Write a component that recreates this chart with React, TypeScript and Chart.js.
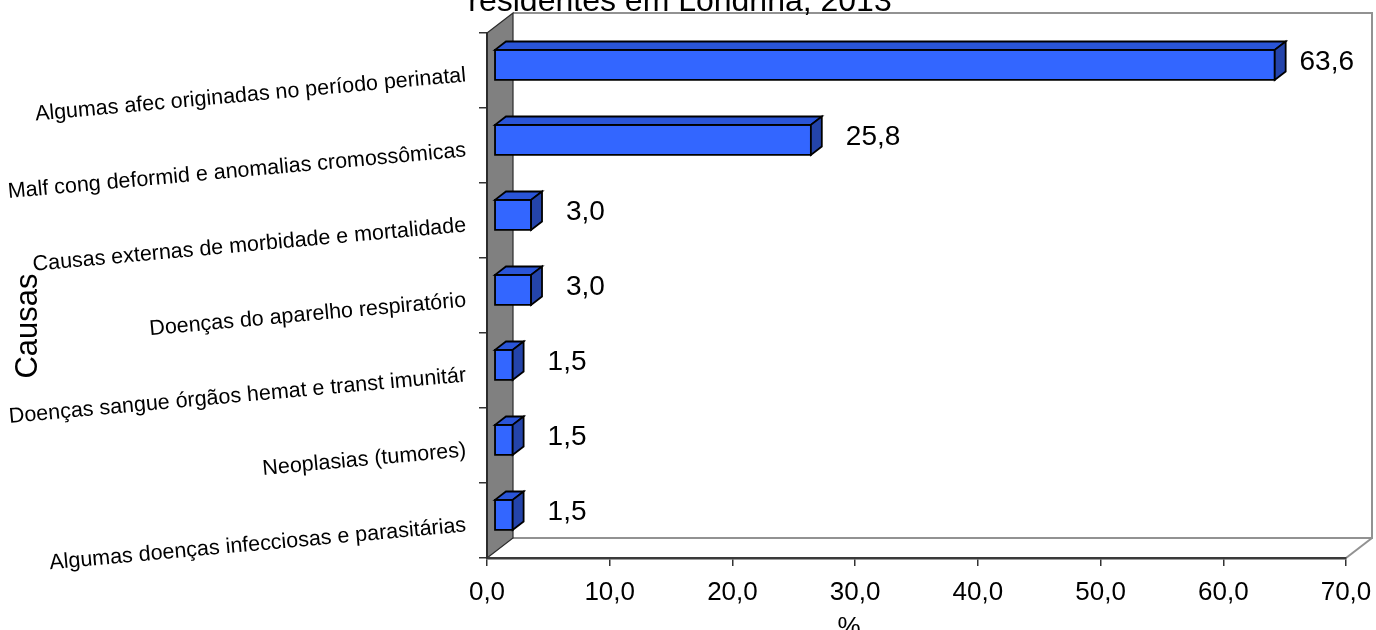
import React, { useEffect, useRef } from 'react';
import { Chart, registerables } from 'chart.js';

Chart.register(...registerables);

// Causes of death (top to bottom) and their share in %
const causes = [
  'Algumas afec originadas no período perinatal',
  'Malf cong deformid e anomalias cromossômicas',
  'Causas externas de morbidade e mortalidade',
  'Doenças do aparelho respiratório',
  'Doenças sangue órgãos hemat e transt imunitár',
  'Neoplasias (tumores)',
  'Algumas doenças infecciosas e parasitárias',
];
const percentages = [63.6, 25.8, 3.0, 3.0, 1.5, 1.5, 1.5];

const axisMin = 0;
const axisMax = 70;
const axisStep = 10;

const titleText = 'residentes em Londrina, 2013';
const xTitle = '%';
const yTitle = 'Causas';

const FONT = '"Liberation Sans", Arial, Helvetica, sans-serif';

// 3D look: depth vector of the plot box, and where the bars sit inside it
const DEPTH = { x: 26, y: -20 };
const BAR_FRONT = 0.28;
const BAR_BACK = 0.7;

const fmt = (v: number) => v.toFixed(1).replace('.', ',');

const boxPlugin = {
  id: 'box3d',
  beforeDraw(chart: any) {
    const { ctx, chartArea: a } = chart;
    const dx = DEPTH.x;
    const dy = DEPTH.y;
    ctx.save();
    // back wall outline + floor edges
    ctx.strokeStyle = '#929292';
    ctx.lineWidth = 2;
    ctx.beginPath();
    ctx.moveTo(a.left + dx, a.bottom + dy);
    ctx.lineTo(a.right + dx, a.bottom + dy);
    ctx.lineTo(a.right + dx, a.top + dy);
    ctx.lineTo(a.left + dx, a.top + dy);
    ctx.stroke();
    ctx.beginPath();
    ctx.moveTo(a.right + dx, a.bottom + dy);
    ctx.lineTo(a.right, a.bottom);
    ctx.stroke();
    // left side wall
    ctx.fillStyle = '#808080';
    ctx.beginPath();
    ctx.moveTo(a.left, a.top);
    ctx.lineTo(a.left + dx, a.top + dy);
    ctx.lineTo(a.left + dx, a.bottom + dy);
    ctx.lineTo(a.left, a.bottom);
    ctx.closePath();
    ctx.fill();
    ctx.strokeStyle = '#2b2b2b';
    ctx.lineWidth = 1.2;
    ctx.stroke();
    ctx.restore();
  },
  afterDatasetsDraw(chart: any) {
    const { ctx, chartArea: a } = chart;
    const meta = chart.getDatasetMeta(0);
    const fx = DEPTH.x * BAR_FRONT;
    const fy = DEPTH.y * BAR_FRONT;
    const bx = DEPTH.x * (BAR_BACK - BAR_FRONT);
    const by = DEPTH.y * (BAR_BACK - BAR_FRONT);
    ctx.save();
    ctx.lineJoin = 'miter';
    ctx.lineWidth = 1.8;
    ctx.strokeStyle = '#000';
    meta.data.forEach((el: any, i: number) => {
      const p = el.getProps(['x', 'y', 'base', 'height'], true);
      const x0 = Math.min(p.base, p.x) + fx;
      const x1 = Math.max(p.base, p.x) + fx;
      const yt = p.y - p.height / 2 + fy;
      const yb = p.y + p.height / 2 + fy;

      // front face
      ctx.fillStyle = '#3366ff';
      ctx.beginPath();
      ctx.rect(x0, yt, x1 - x0, yb - yt);
      ctx.fill();
      ctx.stroke();
      // top face
      ctx.fillStyle = '#2a55d8';
      ctx.beginPath();
      ctx.moveTo(x0, yt);
      ctx.lineTo(x0 + bx, yt + by);
      ctx.lineTo(x1 + bx, yt + by);
      ctx.lineTo(x1, yt);
      ctx.closePath();
      ctx.fill();
      ctx.stroke();
      // end face
      ctx.fillStyle = '#2444aa';
      ctx.beginPath();
      ctx.moveTo(x1, yt);
      ctx.lineTo(x1 + bx, yt + by);
      ctx.lineTo(x1 + bx, yb + by);
      ctx.lineTo(x1, yb);
      ctx.closePath();
      ctx.fill();
      ctx.stroke();

      // value label, kept inside the back wall
      const text = fmt(percentages[i]);
      ctx.font = `28px ${FONT}`;
      ctx.fillStyle = '#000';
      ctx.textAlign = 'left';
      ctx.textBaseline = 'middle';
      const w = ctx.measureText(text).width;
      const lx = Math.min(x1 + bx + 24, a.right + DEPTH.x - 18 - w);
      ctx.fillText(text, lx, p.y - 8);
    });
    ctx.restore();
  },
  afterDraw(chart: any) {
    const { ctx } = chart;
    ctx.save();
    ctx.fillStyle = '#000';
    ctx.textBaseline = 'alphabetic';
    ctx.textAlign = 'center';
    ctx.font = `32px ${FONT}`;
    ctx.fillText(titleText, 680, 11);
    ctx.font = `26px ${FONT}`;
    ctx.fillText(xTitle, 849, 635);
    ctx.translate(37, 326);
    ctx.rotate(-Math.PI / 2);
    ctx.font = `31px ${FONT}`;
    ctx.fillText(yTitle, 0, 0);
    ctx.restore();
  },
};

export default function App() {
  const canvasRef = useRef<HTMLCanvasElement | null>(null);

  useEffect(() => {
    document.body.style.margin = '0';
    const canvas = canvasRef.current;
    if (!canvas) return;
    Chart.defaults.font.family = FONT;
    const chart = new Chart(canvas, {
      type: 'bar',
      data: {
        labels: causes,
        datasets: [
          {
            data: percentages,
            backgroundColor: 'rgba(0,0,0,0)',
            borderWidth: 0,
            categoryPercentage: 0.8,
            barPercentage: 0.5,
          },
        ],
      },
      plugins: [boxPlugin],
      options: {
        indexAxis: 'y',
        animation: false,
        responsive: false,
        maintainAspectRatio: false,
        devicePixelRatio: 1,
        layout: { padding: { top: 33, right: 30, left: 0, bottom: 0 } },
        plugins: {
          legend: { display: false },
          tooltip: { enabled: false },
          title: { display: false },
        },
        scales: {
          x: {
            type: 'linear',
            min: axisMin,
            max: axisMax,
            ticks: {
              stepSize: axisStep,
              callback: (v: any) => fmt(Number(v)),
              font: { size: 26, family: FONT },
              color: '#000',
              padding: 11,
              maxRotation: 0,
            },
            grid: {
              drawOnChartArea: false,
              drawTicks: true,
              tickLength: 8,
              color: '#333',
              lineWidth: 1.5,
            },
            border: { display: true, color: '#3a3a3a', width: 2.5 },
            afterFit: (s: any) => {
              s.height = 72;
              s.paddingLeft = 0;
              s.paddingRight = 0;
            },
          },
          y: {
            type: 'category',
            ticks: {
              font: { size: 21.5, family: FONT },
              color: '#000',
              minRotation: 5.2,
              maxRotation: 5.2,
              padding: 13,
              labelOffset: 5,
              autoSkip: false,
            },
            grid: {
              drawOnChartArea: false,
              drawTicks: true,
              tickLength: 8,
              color: '#333',
              lineWidth: 1.5,
              offset: true,
            },
            border: { display: true, color: '#2b2b2b', width: 2 },
            afterFit: (s: any) => {
              s.width = 487;
              s.paddingTop = 0;
              s.paddingBottom = 0;
            },
          },
        },
      } as any,
    });
    return () => chart.destroy();
  }, []);

  return (
    <div style={{ position: 'fixed', left: 0, top: 0, width: 1376, height: 630, background: '#fff' }}>
      <canvas ref={canvasRef} width={1376} height={630} style={{ display: 'block' }} />
    </div>
  );
}
